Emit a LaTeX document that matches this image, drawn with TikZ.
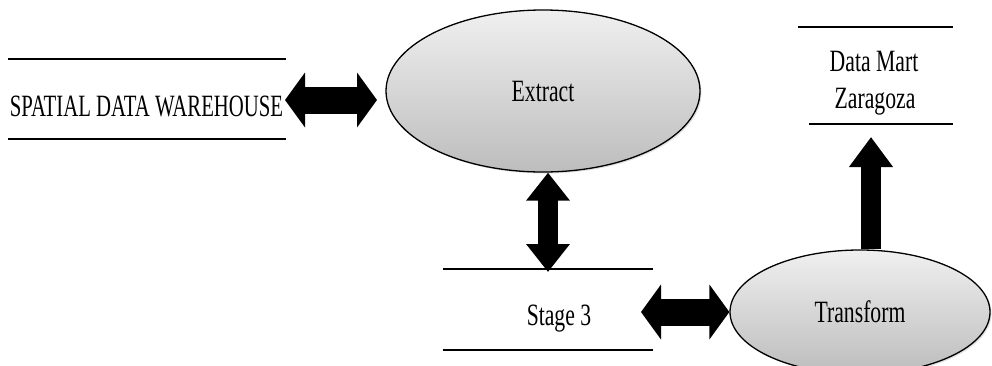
\documentclass[tikz,border=0pt]{standalone}
\usepackage{fontspec}
\setmainfont{Liberation Serif}
\newfontfamily\capsfont[FakeStretch=0.67]{Liberation Serif}
\newfontfamily\labelfont[FakeStretch=0.70]{Liberation Serif}
\usetikzlibrary{arrows.meta,shadows,shapes.geometric}

\begin{document}
\begin{tikzpicture}[x=1pt,y=-1pt,
  lbl/.style={inner sep=0pt, anchor=base, font=\labelfont\fontsize{31}{36}\selectfont},
  capslbl/.style={inner sep=0pt, anchor=base, font=\capsfont\fontsize{31}{36}\selectfont},
  proc/.style={ellipse, draw=black, line width=1.3pt, inner sep=0pt,
    top color=black!6, bottom color=black!26,
    drop shadow={opacity=0.25, shadow xshift=1.5pt, shadow yshift=-1.5pt},
    font=\labelfont\fontsize{31}{36}\selectfont},
  storeline/.style={line width=2pt, black},
  hflow/.style={line width=27pt,
    {Triangle[width=54pt,length=20pt]}-{Triangle[width=54pt,length=20pt]}},
  vflow/.style={line width=20pt,
    {Triangle[width=42pt,length=28pt]}-{Triangle[width=42pt,length=28pt]}},
  upflow/.style={line width=20pt, -{Triangle[width=42pt,length=30pt]}},
]
\useasboundingbox (0,0) rectangle (992,365);

% processes
\node[proc, minimum width=314pt, minimum height=162pt] (extract) at (543,91) {Extract};
\node[proc, minimum width=260pt, minimum height=124pt] (transform) at (860,312) {Transform};

% data stores
\node[capslbl] (sdw) at (146.5,116) {SPATIAL DATA WAREHOUSE};
\draw[storeline] (8,59) -- (286,59);
\draw[storeline] (8,139) -- (286,139);

\node[lbl] (stage) at (559,325) {Stage 3};
\draw[storeline] (443,269) -- (653,269);
\draw[storeline] (443,350) -- (653,350);

\node[lbl] (dm1) at (874,71) {Data Mart};
\node[lbl] (dm2) at (875,108) {Zaragoza};
\draw[storeline] (798,27) -- (953,27);
\draw[storeline] (809,124) -- (953,124);

% flow ends
\coordinate (sdwout) at (285,100);
\coordinate (extin) at (377,100);
\coordinate (stagein) at (548,272);
\coordinate (stageout) at (641,312);
\coordinate (dmin) at (871,137);

% flows
\draw[hflow] (sdwout) -- (extin);
\draw[vflow] ([xshift=5pt]extract.south) -- (stagein);
\draw[hflow] (stageout) -- (transform.west);
\draw[upflow] ([xshift=11pt]transform.north) -- (dmin);
\end{tikzpicture}
\end{document}
